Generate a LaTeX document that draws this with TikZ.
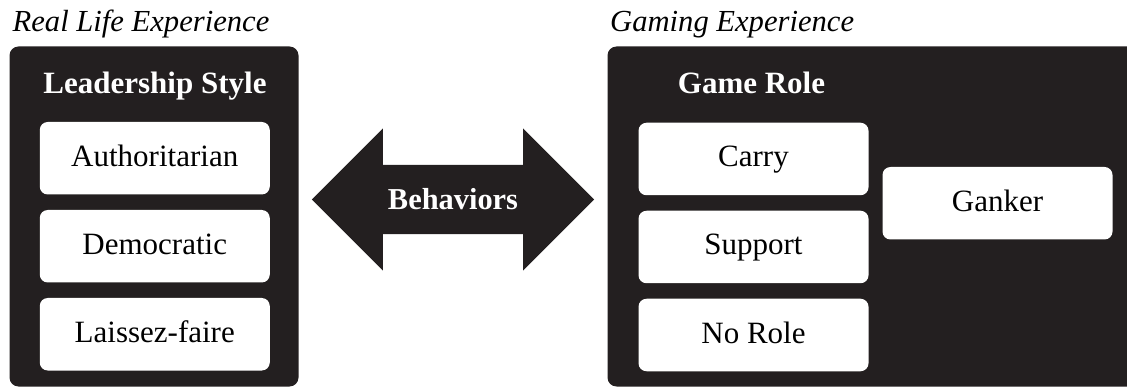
\documentclass[tikz,border=0pt]{standalone}
\usepackage{fontspec}
\setmainfont{Liberation Serif}
\usetikzlibrary{positioning,shapes.arrows}
\definecolor{panelblack}{HTML}{231F20}
\tikzset{
rolebox/.style={
  rectangle,
  rounded corners=8pt,
  fill=white,
  minimum width=230pt,
  minimum height=72.5pt,
  inner sep=0pt,
  outer sep=0pt,
  text height=20pt,
  text depth=4pt,
  font=\fontsize{31}{37}\selectfont,
  }
}
\tikzset{
headtext/.style={
  anchor=base,
  inner sep=0pt,
  text=white,
  font=\fontsize{31}{37}\selectfont\bfseries,
  }
}

\begin{document}
\begin{tikzpicture}[x=1pt,y=-1pt,node distance=15.5pt]
    \useasboundingbox (0,0) rectangle (1127,387);
    % panels
    \path [fill=panelblack, rounded corners=9pt] (9.5,46.5) rectangle (298.5,386.5);
    \path [fill=panelblack, rounded corners=9pt] (607.5,46.5) rectangle (1145,386.5);
    \node[anchor=base west, inner sep=0pt, font=\fontsize{30.6}{36}\selectfont\itshape] (real) at (12.5,32) {Real Life Experience};
    \node[anchor=base west, inner sep=0pt, font=\fontsize{30.6}{36}\selectfont\itshape] (gaming) at (610,32) {Gaming Experience};

    % real life side
    \node[headtext] (lead) at (155,94) {Leadership Style};
    \node[rolebox] (auth) at (154.75,158.25) {Authoritarian};
    \node[rolebox, below=of auth] (demo) {Democratic};
    \node[rolebox, below=of demo] (laissez) {Laissez-faire};

    % gaming side
    \node[headtext] (role) at (751.5,94) {Game Role};
    \node[rolebox] (carry) at (753.5,159) {Carry};
    \node[rolebox, below=of carry] (support) {Support};
    \node[rolebox, below=of support] (norole) {No Role};
    \node[rolebox] (ganker) at (997.5,203.25) {Ganker};

    % link between the two
    \node[double arrow, fill=panelblack, text=white,
          font=\fontsize{30.4}{36}\selectfont\bfseries,
          minimum height=282.3pt, double arrow head extend=36.35pt,
          double arrow tip angle=90, inner xsep=0pt, inner ysep=24pt,
          text height=21pt, text depth=0pt] (behav) at (453,199.5) {Behaviors};
\end{tikzpicture}
\end{document}
